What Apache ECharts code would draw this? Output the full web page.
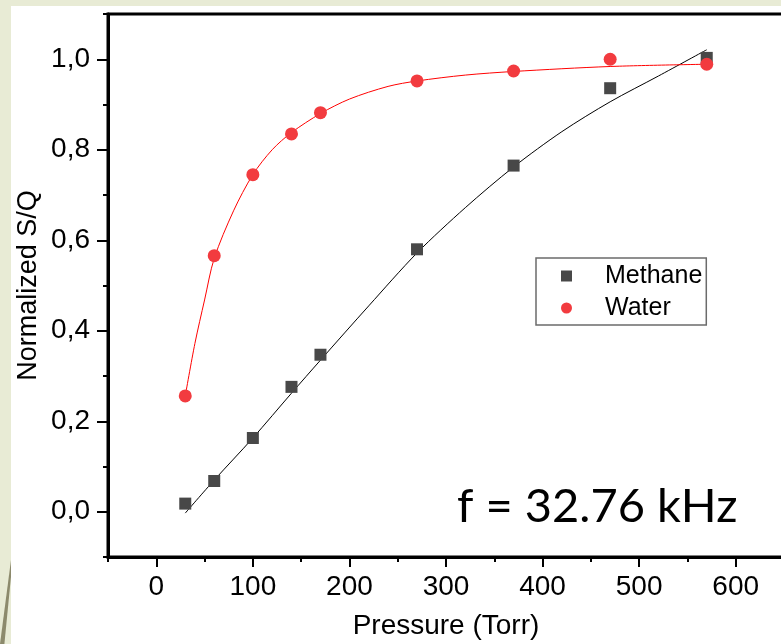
<!DOCTYPE html>
<html>
<head>
<meta charset="utf-8">
<script src="https://cdn.jsdelivr.net/npm/echarts@6/dist/echarts.min.js"></script>
<style>
    html,body{margin:0;padding:0;width:781px;height:644px;overflow:hidden;background:#e8ebd5;}
    #stripe{position:absolute;left:0;top:560px;width:11px;height:84px;background:#8c8a6c;clip-path:polygon(0 100%,40% 100%,100% 20%,100% 0);}
    #main{position:absolute;left:11px;top:6px;width:770px;height:638px;background:#fff;}
</style>
</head>
<body>
<div id="stripe"></div>
<div id="main"></div>
<script>
// 测量点
const pressure=[30,60,100,140,170,270,370,470,570];
const methane=[0.018,0.068,0.163,0.276,0.347,0.580,0.765,0.936,1.003];
const water=[0.256,0.566,0.745,0.835,0.882,0.952,0.974,1.000,0.989];

// 拟合曲线
const methaneFitX=[30,60,100,140,170,220,270,320,370,420,470,520,570];
const methaneFitY=[-0.003,0.070,0.163,0.262,0.335,0.455,0.572,0.672,0.762,0.840,0.906,0.963,1.021];
const waterFitX=[30,40,50,60,80,100,120,140,170,200,240,270,320,370,470,570];
const waterFitY=[0.256,0.372,0.468,0.560,0.665,0.745,0.800,0.838,0.880,0.912,0.940,0.952,0.965,0.973,0.984,0.989];

// 刻度
const xMajor=[0,100,200,300,400,500,600];
const yMajor=[0,0.2,0.4,0.6,0.8,1.0];

const zip=(a,b)=>a.map((v,i)=>[v,b[i]]);
const FONT='Liberation Sans';

const chart=echarts.init(document.getElementById('main'));
const gridPos={left:97,top:8,right:-3,bottom:87,containLabel:false,outerBoundsMode:'none'};
const option={
    animation:false,
    textStyle:{fontFamily:FONT},
    grid:[
        Object.assign({show:true,borderColor:'#000',borderWidth:3},gridPos),
        Object.assign({show:false},gridPos)
    ],
    xAxis:[{
        gridIndex:0,type:'value',min:-50,max:650,interval:50,
        axisLine:{onZero:false,lineStyle:{color:'#000',width:3}},
        axisTick:{length:5,lineStyle:{color:'#000',width:2}},
        axisLabel:{show:false},
        splitLine:{show:false},
        name:'Pressure (Torr)',nameLocation:'middle',nameGap:55,
        nameTextStyle:{fontSize:28,color:'#000',fontFamily:FONT}
    },{
        gridIndex:1,type:'value',min:-50,max:650,
        axisLine:{show:false,onZero:false},
        axisTick:{customValues:xMajor,length:10,lineStyle:{color:'#000',width:2}},
        axisLabel:{customValues:xMajor,fontSize:28,color:'#000',margin:16,fontFamily:FONT},
        splitLine:{show:false}
    }],
    yAxis:[{
        gridIndex:0,type:'value',min:-0.1,max:1.1,interval:0.1,
        axisLine:{onZero:false,lineStyle:{color:'#000',width:3}},
        axisTick:{length:5,lineStyle:{color:'#000',width:2}},
        axisLabel:{show:false},
        splitLine:{show:false},
        name:'Normalized S/Q',nameLocation:'middle',nameGap:66,
        nameTextStyle:{fontSize:27,color:'#000',fontFamily:FONT}
    },{
        gridIndex:1,type:'value',min:-0.1,max:1.1,
        axisLine:{show:false,onZero:false},
        axisTick:{customValues:yMajor,length:11,lineStyle:{color:'#000',width:2}},
        axisLabel:{customValues:yMajor,fontSize:28,color:'#000',margin:18,fontFamily:FONT,
            formatter:v=>v.toFixed(1).replace('.',',')},
        splitLine:{show:false}
    }],
    legend:{
        data:['Methane','Water'],
        orient:'vertical',left:525,top:252,
        padding:[5,4,4,25],
        itemWidth:11,itemHeight:11,itemGap:6,
        borderColor:'#6b6b6b',borderWidth:1.5,
        textStyle:{fontSize:25,color:'#000',lineHeight:26,padding:[0,0,0,28],fontFamily:FONT}
    },
    graphic:[{
        type:'text',left:446,top:477,
        style:{text:'f = 32.76 kHz',fontSize:47,fontFamily:'Lato',fontWeight:400,fill:'#000'}
    }],
    series:[{
        name:'Methane fit',type:'line',data:zip(methaneFitX,methaneFitY),
        smooth:0.3,showSymbol:false,lineStyle:{color:'#000',width:1},z:1
    },{
        name:'Water fit',type:'line',data:zip(waterFitX,waterFitY),
        smooth:0.3,showSymbol:false,lineStyle:{color:'#ff0000',width:1},z:1
    },{
        name:'Methane',type:'scatter',data:zip(pressure,methane),
        symbol:'rect',symbolSize:12,itemStyle:{color:'#484848',opacity:1},z:3
    },{
        name:'Water',type:'scatter',data:zip(pressure,water),
        symbol:'circle',symbolSize:13,itemStyle:{color:'#f23b3f',opacity:1},z:4
    }]
};
chart.setOption(option);
</script>
</body>
</html>
